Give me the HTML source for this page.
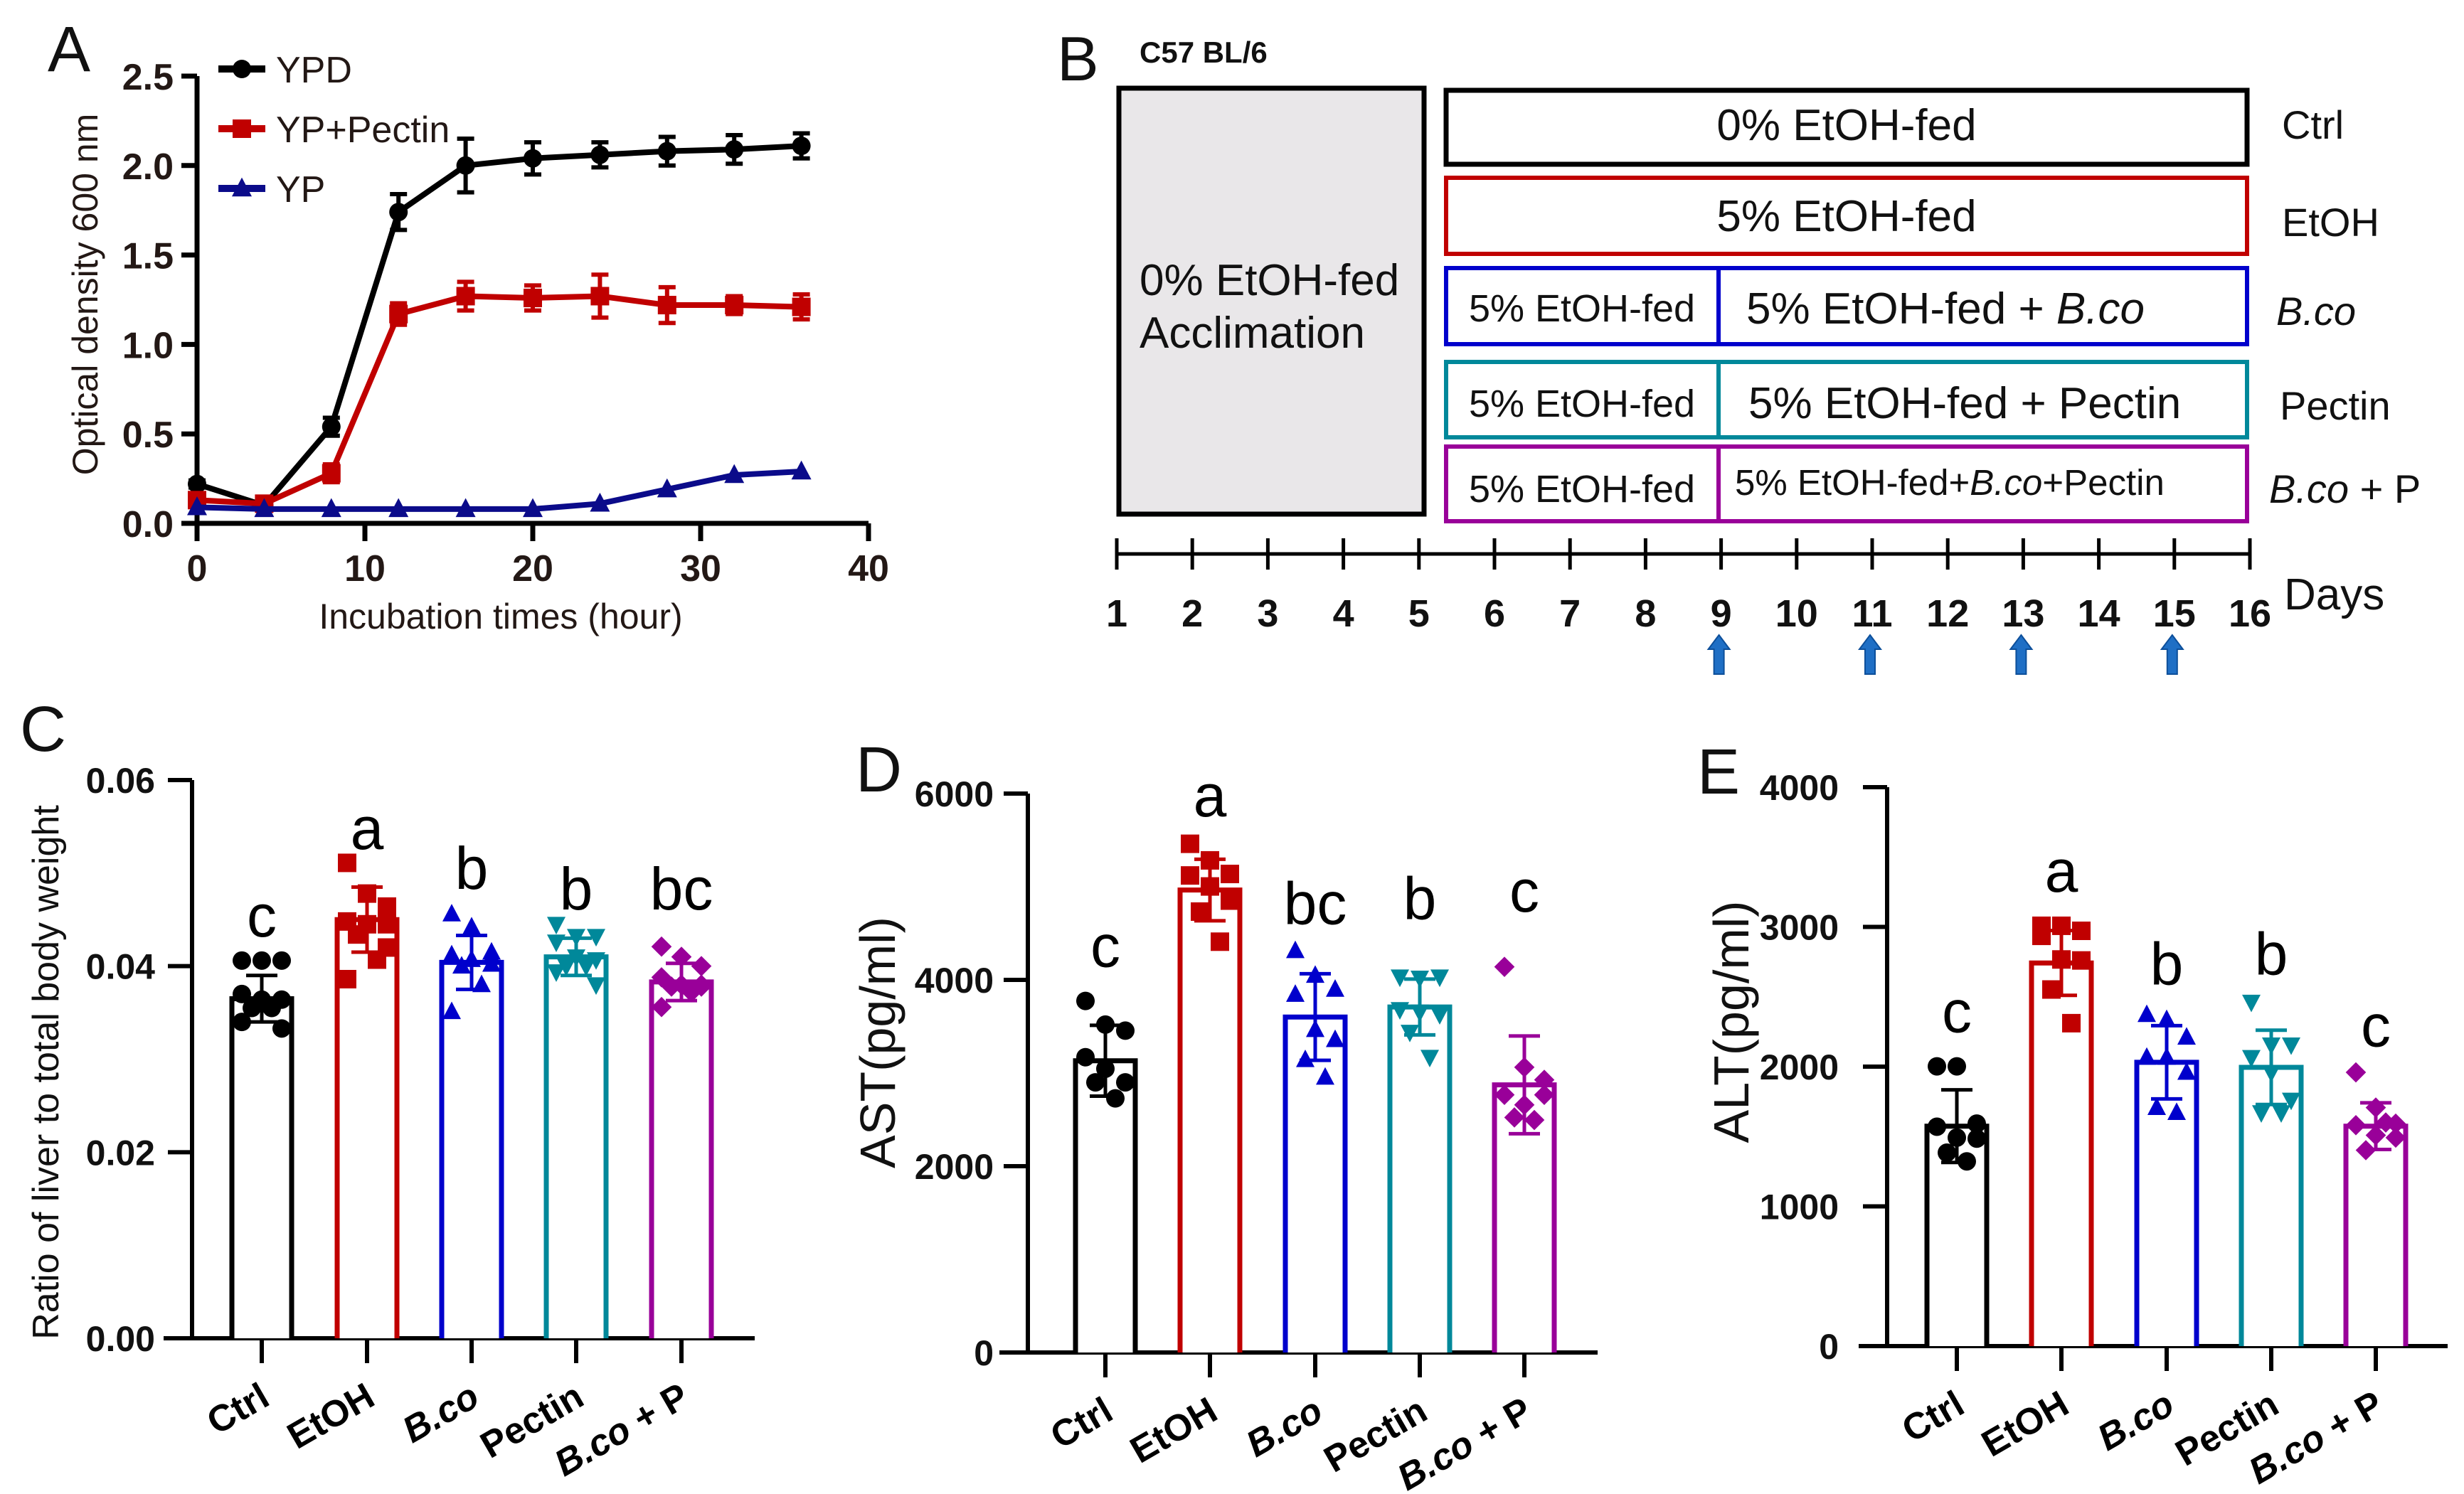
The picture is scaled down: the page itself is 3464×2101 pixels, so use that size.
<!DOCTYPE html>
<html><head><meta charset="utf-8"><style>
html,body{margin:0;padding:0;background:#fff}
svg{display:block;font-family:"Liberation Sans",sans-serif}
</style></head><body>
<svg id="fig" width="3464" height="2101" viewBox="0 0 3464 2101" xmlns="http://www.w3.org/2000/svg">
<g id="panelB" fill="#111">
  <text x="1486" y="113" font-size="88">B</text>
  <text x="1602" y="88" font-size="42" font-weight="bold">C57 BL/6</text>
  <rect x="1573" y="124" width="429" height="599" fill="#e9e7e9" stroke="#000" stroke-width="7"/>
  <text x="1602" y="415" font-size="62">0% EtOH-fed</text>
  <text x="1602" y="489" font-size="62">Acclimation</text>
  <rect x="2033" y="127" width="1126" height="104" fill="none" stroke="#000" stroke-width="7"/>
  <text x="2596" y="197" font-size="62" text-anchor="middle">0% EtOH-fed</text>
  <rect x="2033" y="250" width="1126" height="107" fill="none" stroke="#c00000" stroke-width="6"/>
  <text x="2596" y="325" font-size="62" text-anchor="middle">5% EtOH-fed</text>
  <rect x="2033" y="377" width="1126" height="107" fill="none" stroke="#0000cc" stroke-width="6"/>
  <line x1="2416" y1="377" x2="2416" y2="484" stroke="#0000cc" stroke-width="6"/>
  <text x="2224" y="452" font-size="54" text-anchor="middle">5% EtOH-fed</text>
  <text x="2455" y="455" font-size="62">5% EtOH-fed + <tspan font-style="italic">B.co</tspan></text>
  <rect x="2033" y="509" width="1126" height="106" fill="none" stroke="#00889a" stroke-width="6"/>
  <line x1="2416" y1="509" x2="2416" y2="615" stroke="#00889a" stroke-width="6"/>
  <text x="2224" y="586" font-size="54" text-anchor="middle">5% EtOH-fed</text>
  <text x="2458" y="588" font-size="62">5% EtOH-fed + Pectin</text>
  <rect x="2033" y="628" width="1126" height="105" fill="none" stroke="#990099" stroke-width="6"/>
  <line x1="2416" y1="628" x2="2416" y2="733" stroke="#990099" stroke-width="6"/>
  <text x="2224" y="706" font-size="54" text-anchor="middle">5% EtOH-fed</text>
  <text x="2439" y="696" font-size="51">5% EtOH-fed+<tspan font-style="italic">B.co</tspan>+Pectin</text>
  <text x="3208" y="195" font-size="56">Ctrl</text>
  <text x="3208" y="332" font-size="56">EtOH</text>
  <text x="3200" y="457" font-size="56" font-style="italic">B.co</text>
  <text x="3205" y="590" font-size="56">Pectin</text>
  <text x="3190" y="707" font-size="56"><tspan font-style="italic">B.co</tspan> + P</text>
  <line x1="1570" y1="779" x2="3163" y2="779" stroke="#000" stroke-width="5"/>
  <g id="dayTicks"></g>
  <text x="3211" y="857" font-size="62">Days</text>
</g>
<g id="panelA"></g>
<g id="panelC"></g>
<g id="panelD"></g>
<g id="panelE"></g>
</svg>
<script>
// ---------- Panel A data ----------
const hours = [0,4,8,12,16,20,24,28,32,36];
const ypd = [0.22,0.10,0.54,1.74,2.00,2.04,2.06,2.08,2.09,2.11];
const ypdErr = [0.02,0.02,0.05,0.10,0.15,0.09,0.07,0.08,0.08,0.07];
const ypPectin = [0.13,0.11,0.28,1.17,1.27,1.26,1.27,1.22,1.22,1.21];
const ypPectinErr = [0.03,0.02,0.05,0.06,0.08,0.07,0.12,0.10,0.05,0.07];
const yp = [0.09,0.08,0.08,0.08,0.08,0.08,0.11,0.19,0.27,0.29];
const aXTicks = [0,10,20,30,40];
const aYTicks = ["0.0","0.5","1.0","1.5","2.0","2.5"];
const legendLabels = ["YPD","YP+Pectin","YP"];
// ---------- Panel B data ----------
const days = [1,2,3,4,5,6,7,8,9,10,11,12,13,14,15,16];
const arrowDays = [9,11,13,15];
// ---------- Bar chart data ----------
const groups = ["Ctrl","EtOH","B.co","Pectin","B.co + P"];
const cMeans = [0.0365,0.0450,0.0404,0.0410,0.0383];
const cSD = [0.0025,0.0035,0.0029,0.0020,0.0020];
const cPoints = [
 [0.0406,0.0406,0.0406,0.0370,0.0364,0.0364,0.0355,0.0355,0.0340,0.0333],
 [0.0511,0.0478,0.0464,0.0448,0.0445,0.0445,0.0434,0.0407,0.0386,0.0420],
 [0.0456,0.0442,0.0415,0.0412,0.0407,0.0402,0.0400,0.0380,0.0351,0.0410],
 [0.0445,0.0432,0.0432,0.0426,0.0410,0.0407,0.0400,0.0400,0.0394,0.0380],
 [0.0421,0.0410,0.0400,0.0388,0.0380,0.0378,0.0378,0.0372,0.0356,0.0380]];
const cLetters = ["c","a","b","b","bc"];
const cLetterY = [0.0432,0.0526,0.0483,0.0461,0.0461];
const cTicks = ["0.00","0.02","0.04","0.06"];
const dMeans = [3132,4965,3601,3709,2873];
const dSD = [380,330,465,300,525];
const dPoints = [
 [3774,3520,3455,3170,3046,2900,2900,2728],
 [5461,5283,5137,5121,5003,4851,4733,4410],
 [4313,4048,3898,3844,3466,3358,3143,2954],
 [4032,4020,4032,3682,3655,3628,3439,3170],
 [4140,3062,2927,2766,2658,2766,2523,2496]];
const dLetters = ["c","a","bc","b","c"];
const dLetterY = [4140,5757,4598,4652,4733];
const dTicks = ["0","2000","4000","6000"];
const eMeans = [1574,2742,2031,1995,1574];
const eSD = [260,232,262,266,167];
const ePoints = [
 [2002,2002,1592,1570,1492,1485,1384,1322],
 [3008,3008,2972,2936,2767,2760,2552,2311],
 [2372,2336,2210,2066,2066,1959,1707,1671],
 [2462,2156,2156,2066,1959,1761,1671,1671],
 [1959,1707,1592,1581,1509,1492,1402,1600]];
const eLetters = ["c","a","b","b","c"];
const eLetterY = [2246,3253,2588,2660,2146];
const eTicks = ["0","1000","2000","3000","4000"];

const NS="http://www.w3.org/2000/svg";
function mk(parent,tag,attrs,text){const e=document.createElementNS(NS,tag);for(const k in attrs)e.setAttribute(k,attrs[k]);if(text!==undefined)e.textContent=text;parent.appendChild(e);return e;}
function marker(g,shape,x,y,s,color){
  let e;
  if(shape==="circle"){e=mk(g,"circle",{cx:x,cy:y,r:s,fill:color});}
  else if(shape==="square"){e=mk(g,"rect",{x:x-s,y:y-s,width:2*s,height:2*s,fill:color});}
  else if(shape==="tri"){e=mk(g,"polygon",{points:`${x},${y-s*1.1} ${x-s},${y+s*0.8} ${x+s},${y+s*0.8}`,fill:color});}
  else if(shape==="tridown"){e=mk(g,"polygon",{points:`${x},${y+s*1.1} ${x-s},${y-s*0.8} ${x+s},${y-s*0.8}`,fill:color});}
  else {e=mk(g,"polygon",{points:`${x},${y-s*1.1} ${x+s*1.1},${y} ${x},${y+s*1.1} ${x-s*1.1},${y}`,fill:color});}
  return e;
}

// ---------- Panel A ----------
(function(){
  const g=document.getElementById("panelA");
  const x0=277,x1=1221,yb=736,yt=107;
  const xs=v=>x0+(v-0)/40*(x1-x0);
  const ys=v=>yb-(v/2.5)*(yb-yt);
  let t=mk(g,"text",{x:67,y:100,"font-size":90,fill:"#111"},"A");
  
  
  let ax=mk(g,"path",{d:`M${x0},${yt} V${yb} H${x1}`,stroke:"#000","stroke-width":7,fill:"none"});
  
  
  aYTicks.forEach(lb=>{const y=ys(parseFloat(lb));
    mk(g,"line",{x1:x0-22,y1:y,x2:x0,y2:y,stroke:"#000","stroke-width":7});
    const tx=mk(g,"text",{x:x0-33,y:y+19,"font-size":52,"font-weight":"bold","text-anchor":"end",fill:"#231815"},lb);
    
    
  });
  aXTicks.forEach(v=>{const x=xs(v);
    mk(g,"line",{x1:x,y1:yb,x2:x,y2:yb+25,stroke:"#000","stroke-width":7});
    const tx=mk(g,"text",{x:x,y:817,"font-size":52,"font-weight":"bold","text-anchor":"middle",fill:"#231815"},v);
    
    
  });
  t=mk(g,"text",{x:704,y:884,"font-size":50,"text-anchor":"middle",fill:"#231815"},"Incubation times (hour)");
  
  
  t=mk(g,"text",{x:0,y:0,"font-size":50,"text-anchor":"middle",fill:"#231815",transform:"translate(137,414) rotate(-90)"},"Optical density 600 nm");
  
  
  const series=[[ypd,ypdErr,"#000","circle",13],[ypPectin,ypPectinErr,"#c00000","square",13],[yp,null,"#0b0b8a","tri",14]];
  series.forEach((s,si)=>{
    const [vals,err,col,shape,sz]=s;
    const sg=mk(g,"g",{});
    
    
    mk(sg,"polyline",{points:hours.map((h,i)=>xs(h)+","+ys(vals[i])).join(" "),fill:"none",stroke:col,"stroke-width":8,"stroke-linejoin":"round"});
    hours.forEach((h,i)=>{
      const x=xs(h),y=ys(vals[i]);
      if(err){const y1=ys(vals[i]+err[i]),y2=ys(vals[i]-err[i]);
        mk(sg,"path",{d:`M${x},${y1}V${y2}M${x-12},${y1}H${x+12}M${x-12},${y2}H${x+12}`,stroke:col,"stroke-width":6,fill:"none"});}
      const m=marker(sg,shape,x,y,sz,col);
      
      
    });
    const ly=[97,181,265][si];
    const lg=mk(g,"g",{});
    
    
    mk(lg,"line",{x1:307,y1:ly,x2:373,y2:ly,stroke:col,"stroke-width":10});
    marker(lg,shape,340,ly,sz,col);
    mk(lg,"text",{x:388,y:ly+19,"font-size":52,fill:"#231815"},legendLabels[si]);
  });
})();

// ---------- Panel B ticks/arrows ----------
(function(){
  const g=document.getElementById("dayTicks");
  const x0=1570,x1=3163;
  const xs=d=>x0+(d-1)/15*(x1-x0);
  days.forEach(d=>{const x=xs(d);
    mk(g,"line",{x1:x,y1:757,x2:x,y2:801,stroke:"#000","stroke-width":5});
    const t=mk(g,"text",{x:x,y:881,"font-size":54,"font-weight":"bold","text-anchor":"middle"},d);
    
    
  });
  arrowDays.forEach(d=>{const x=xs(d)-3;
    const a=mk(g,"polygon",{points:`${x},893 ${x+15},913 ${x+7},913 ${x+7},948 ${x-7},948 ${x-7},913 ${x-15},913`,fill:"#1f6fc5",stroke:"#0d4f9a","stroke-width":2});
    
    
  });
})();

// ---------- Bar charts ----------
const colors=["#000","#c00000","#0000cc","#00889a","#990099"];
const shapes=["circle","square","tri","tridown","diamond"];
const jitter=[-28,0,28,-28,0,28,-14,14,-28,28];
function barChart(id,cfg){
  const g=document.getElementById(id);
  const {axisX,y0,yTop,maxV,centers,means,sd,points,letters,letterY,ticks,lineEnd,label,labelX,labelY,title,titleX,titleY,titleSize,tickRight}=cfg;
  const ys=v=>y0-v/maxV*(y0-yTop);
  let t=mk(g,"text",{x:labelX,y:labelY,"font-size":90,fill:"#111"},label);
  
  
  let ax=mk(g,"path",{d:`M${axisX},${yTop} V${y0+3}`,stroke:"#000","stroke-width":6,fill:"none"});
  
  
  ax=mk(g,"line",{x1:axisX-40,y1:y0,x2:lineEnd,y2:y0,stroke:"#000","stroke-width":6});
  
  
  ticks.forEach(lb=>{const y=ys(parseFloat(lb));
    mk(g,"line",{x1:axisX-34,y1:y,x2:axisX,y2:y,stroke:"#000","stroke-width":6});
    const tx=mk(g,"text",{x:tickRight,y:y+18,"font-size":50,"font-weight":"bold","text-anchor":"end",fill:"#111"},lb);
    
    
  });
  t=mk(g,"text",{x:0,y:0,"font-size":titleSize,"text-anchor":"middle",fill:"#111",transform:`translate(${titleX},${titleY}) rotate(-90)`},title);
  
  
  groups.forEach((gr,i)=>{
    const cx=centers[i],col=colors[i];
    const bg=mk(g,"g",{});
    
    
    const top=ys(means[i]);
    mk(bg,"path",{d:`M${cx-42},${y0} V${top} H${cx+42} V${y0}`,fill:"#fff",stroke:col,"stroke-width":7});
    points[i].forEach((v,j)=>{
      const m=marker(bg,shapes[i],cx+jitter[j%jitter.length],ys(v),13,col);
      
      
    });
    const y1=ys(means[i]+sd[i]),y2=ys(means[i]-sd[i]);
    mk(bg,"path",{d:`M${cx},${y1}V${y2}M${cx-22},${y1}H${cx+22}M${cx-22},${y2}H${cx+22}`,stroke:col,"stroke-width":5,fill:"none"});
    const lt=mk(g,"text",{x:cx,y:ys(letterY[i]),"font-size":84,"text-anchor":"middle",fill:"#000"},letters[i]);
    
    
    mk(g,"line",{x1:cx,y1:y0,x2:cx,y2:y0+35,stroke:"#000","stroke-width":6});
    const ital=(gr.indexOf("B.co")===0);
    const xl=mk(g,"text",{x:0,y:0,"font-size":52,"font-weight":"bold","text-anchor":"end",fill:"#000",transform:`translate(${cx+14},${y0+92}) rotate(-30)`});
    
    
    if(ital){const s=mk(xl,"tspan",{"font-style":"italic"},"B.co");if(gr.length>4)mk(xl,"tspan",{},gr.slice(4));}
    else xl.textContent=gr;
  });
}
barChart("panelC",{axisX:270,y0:1882,yTop:1097,maxV:0.06,centers:[368,516,663,810,958],means:cMeans,sd:cSD,points:cPoints,letters:cLetters,letterY:cLetterY,ticks:cTicks,lineEnd:1061,label:"C",labelX:28,labelY:1056,title:"Ratio of liver to total body weight",titleX:82,titleY:1508,titleSize:52,tickRight:218});
barChart("panelD",{axisX:1445,y0:1902,yTop:1116,maxV:6000,centers:[1554,1701,1849,1996,2143],means:dMeans,sd:dSD,points:dPoints,letters:dLetters,letterY:dLetterY,ticks:dTicks,lineEnd:2246,label:"D",labelX:1203,labelY:1113,title:"AST(pg/ml)",titleX:1258,titleY:1466,titleSize:70,tickRight:1397});
barChart("panelE",{axisX:2653,y0:1893,yTop:1107,maxV:4000,centers:[2751,2898,3046,3193,3340],means:eMeans,sd:eSD,points:ePoints,letters:eLetters,letterY:eLetterY,ticks:eTicks,lineEnd:3441,label:"E",labelX:2386,labelY:1116,title:"ALT(pg/ml)",titleX:2458,titleY:1437,titleSize:70,tickRight:2585});
</script>
</body></html>
